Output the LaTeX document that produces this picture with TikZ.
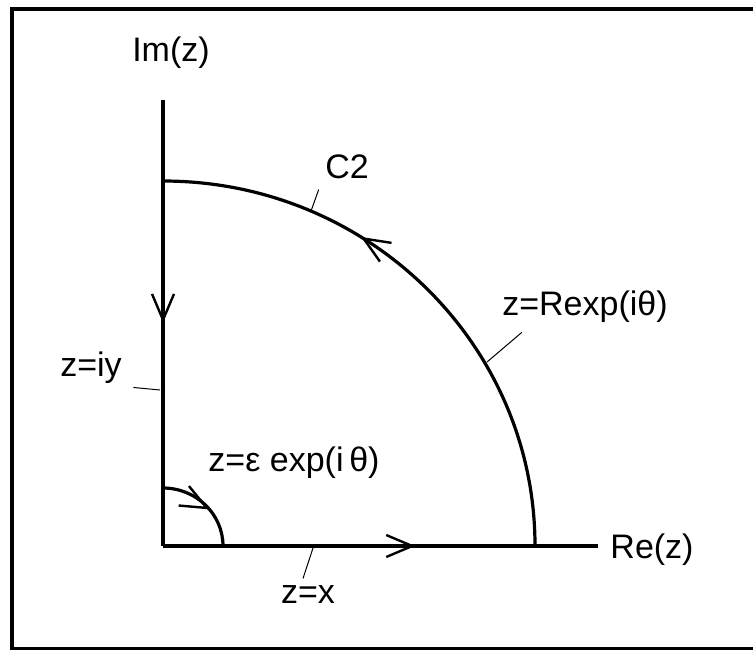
\documentclass[tikz,border=0pt]{standalone}
\usepackage{fontspec}
\setmainfont{Liberation Sans}
\usetikzlibrary{arrows.meta,decorations.markings}
\tikzset{
  midarrow/.style 2 args={postaction={decorate,decoration={markings,
      mark=at position #1 with {\begin{scope}[rotate=#2]
        \arrow{Straight Barb[length=13pt,width=11pt,line width=1.2pt]}\end{scope}}}}},
  leader/.style={line width=0.5pt},
  lbl/.style={font=\fontsize{17}{20}\selectfont,inner sep=2pt}
}

\begin{document}
\begin{tikzpicture}[x=0.5pt,y=0.5pt,line width=1.6pt]
  \useasboundingbox (0,0) rectangle (753,650);
  \draw (753,641) -- (12,641) -- (12,1.5) -- (753,1.5);
  \coordinate (O) at (163,104);
  \coordinate (imtop) at (163,550);
  \coordinate (reend) at (598,104);
  \draw[midarrow={0.50}{0}] (imtop) -- (O);
  \draw[midarrow={0.58}{0}] (O) -- (reend);
  \draw[midarrow={0.64}{0}] (535,104) arc[start angle=0,end angle=90,x radius=372,y radius=365];
  \draw[midarrow={0.57}{22}] (163,162) arc[start angle=90,end angle=0,x radius=60,y radius=58];
  \node[lbl] (imlabel) at (171,597) {Im(z)};
  \node[lbl] (relabel) at (652,100) {Re(z)};
  \node[lbl] (c2label) at (347,483) {C2};
  \node[lbl] (biglabel) at (585,343) {z=Rexp(iθ)};
  \node[lbl] (iylabel) at (91,282) {z=iy};
  \node[lbl] (smalllabel) at (294,187) {z=ε exp(i\,θ)};
  \node[lbl] (xlabel) at (308,55) {z=x};
  \coordinate (c2foot) at (311,439);
  \coordinate (bigfoot) at (487,288);
  \coordinate (iyfoot) at (160,260);
  \coordinate (xfoot) at (313,102);
  \draw[leader] (c2label.south west) ++(-1,-5) -- (c2foot);
  \draw[leader] (biglabel.south west) ++(25,-4) -- (bigfoot);
  \draw[leader] (iylabel.south east) ++(6,2) -- (iyfoot);
  \draw[leader] (xlabel.north) ++(-5,2) -- (xfoot);
\end{tikzpicture}
\end{document}
